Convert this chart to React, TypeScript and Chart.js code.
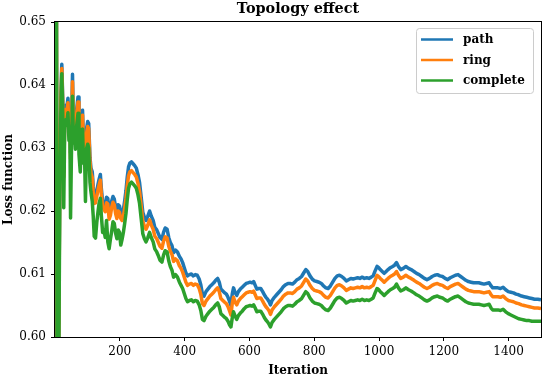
import React, { useEffect, useRef } from "react";
import { Chart, registerables } from "chart.js";

Chart.register(...registerables);

const chartTitle = "Topology effect";
const xAxisTitle = "Iteration";
const yAxisTitle = "Loss function";
const seriesNames = ["path", "ring", "complete"];
const seriesColors = ["#1f77b4", "#ff7f0e", "#2ca02c"];
const xTicks = [200, 400, 600, 800, 1000, 1200, 1400];
const yTicks = [0.6, 0.61, 0.62, 0.63, 0.64, 0.65];

const iterations = [
  1, 4, 7, 11, 15, 18, 21, 24, 27, 30, 33, 36, 40, 43, 46, 48, 51, 54, 57, 60,
  63, 67, 71, 74, 78, 82, 85, 88, 91, 94, 97, 101, 104, 108, 111, 115, 118, 121, 125, 129,
  133, 136, 140, 143, 147, 151, 155, 159, 163, 167, 171, 175, 179, 183, 187, 191, 195, 199, 203, 207,
  211, 215, 219, 223, 227, 231, 236, 241, 246, 251, 256, 261, 266, 271, 276, 281, 286, 292, 297, 303,
  308, 314, 319, 324, 330, 335, 340, 346, 351, 356, 361, 366, 372, 378, 384, 389, 394, 399, 404, 409,
  415, 421, 427, 433, 439, 445, 450, 455, 460, 466, 472, 478, 484, 490, 496, 502, 507, 512, 518, 524,
  529, 534, 539, 543, 547, 551, 556, 561, 566, 572, 578, 584, 590, 596, 602, 608, 613, 618, 623, 629,
  635, 641, 646, 651, 656, 661, 665, 670, 677, 684, 691, 698, 705, 712, 719, 726, 733, 740, 747, 754,
  761, 768, 774, 780, 787, 794, 801, 808, 815, 822, 829, 836, 843, 850, 857, 864, 871, 878, 885, 892,
  899, 906, 913, 920, 927, 934, 941, 948, 955, 962, 969, 976, 982, 988, 994, 999, 1004, 1010, 1016, 1022,
  1028, 1035, 1042, 1048, 1054, 1060, 1067, 1075, 1083, 1091, 1099, 1108, 1116, 1124, 1132, 1140, 1148, 1156, 1164, 1172,
  1180, 1188, 1196, 1204, 1212, 1220, 1228, 1236, 1244, 1252, 1260, 1268, 1276, 1284, 1292, 1300, 1308, 1316, 1324, 1332,
  1340, 1346, 1351, 1359, 1367, 1375, 1383, 1391, 1399, 1407, 1415, 1423, 1431, 1440, 1448, 1456, 1464, 1472, 1480, 1490,
  1500,
];

const pathLoss = [
  0.7, 0.66, 0.59, 0.596, 0.628, 0.638, 0.6433, 0.6375, 0.6262, 0.6355, 0.6368, 0.6362, 0.6379, 0.6342, 0.6355, 0.6292, 0.633, 0.6417, 0.6335, 0.636,
  0.6345, 0.6362, 0.6381, 0.6322, 0.6348, 0.6356, 0.636, 0.6308, 0.6325, 0.631, 0.633, 0.6342, 0.6339, 0.6285, 0.6268, 0.6262, 0.6239, 0.6222, 0.6222, 0.6232,
  0.6243, 0.625, 0.6258, 0.6236, 0.6215, 0.6212, 0.6208, 0.6222, 0.622, 0.6196, 0.6202, 0.6216, 0.6223, 0.6219, 0.6205, 0.6197, 0.621, 0.6208, 0.6198, 0.6196,
  0.6202, 0.6216, 0.6232, 0.6254, 0.627, 0.6276, 0.6278, 0.6275, 0.6272, 0.6268, 0.6258, 0.6245, 0.6222, 0.6198, 0.619, 0.6185, 0.6191, 0.62, 0.6192, 0.6185,
  0.6174, 0.617, 0.6164, 0.6158, 0.6155, 0.6166, 0.6173, 0.6171, 0.6158, 0.615, 0.6145, 0.6134, 0.6138, 0.6135, 0.6128, 0.6124, 0.6118, 0.611, 0.6102, 0.6097,
  0.6099, 0.61, 0.6097, 0.6099, 0.6098, 0.6092, 0.6083, 0.6068, 0.6065, 0.6072, 0.6076, 0.608, 0.6083, 0.6086, 0.609, 0.6093, 0.6087, 0.6076, 0.6073, 0.607,
  0.6068, 0.6063, 0.6056, 0.605, 0.6068, 0.6078, 0.607, 0.6066, 0.6072, 0.6076, 0.6079, 0.6082, 0.6085, 0.6086, 0.6087, 0.6086, 0.6088, 0.6082, 0.6076, 0.6077,
  0.6077, 0.6072, 0.6067, 0.6063, 0.606, 0.6056, 0.6051, 0.6058, 0.6063, 0.6067, 0.6071, 0.6075, 0.608, 0.6083, 0.6085, 0.6085, 0.6084, 0.6087, 0.6091, 0.6093,
  0.6096, 0.6102, 0.6107, 0.6104, 0.6097, 0.6092, 0.6089, 0.6088, 0.6087, 0.6085, 0.6081, 0.6078, 0.6077, 0.6081, 0.6087, 0.6093, 0.6097, 0.6098, 0.6096, 0.6093,
  0.6089, 0.6091, 0.6093, 0.6092, 0.6093, 0.6094, 0.6093, 0.6095, 0.6093, 0.6094, 0.6093, 0.6095, 0.6097, 0.6105, 0.6112, 0.611, 0.6107, 0.6104, 0.6101, 0.6104,
  0.6107, 0.611, 0.6112, 0.6114, 0.6118, 0.6112, 0.6107, 0.6109, 0.6112, 0.6109, 0.6107, 0.6104, 0.6101, 0.6099, 0.6096, 0.6093, 0.6091, 0.6093, 0.6096, 0.6098,
  0.6099, 0.6097, 0.6096, 0.6093, 0.6091, 0.6094, 0.6096, 0.6098, 0.6099, 0.6096, 0.6093, 0.609, 0.6088, 0.6087, 0.6086, 0.6086, 0.6086, 0.6085, 0.6084, 0.6085,
  0.6086, 0.6081, 0.6078, 0.6078, 0.6078, 0.6077, 0.6079, 0.6075, 0.6072, 0.6071, 0.607, 0.6068, 0.6067, 0.6065, 0.6064, 0.6063, 0.6062, 0.6061, 0.606, 0.606,
  0.6059,
];

const ringLoss = [
  0.7, 0.662, 0.59, 0.595, 0.627, 0.637, 0.6426, 0.6368, 0.6254, 0.6348, 0.6361, 0.6355, 0.6372, 0.6335, 0.6348, 0.6283, 0.6322, 0.6405, 0.6328, 0.6352,
  0.6338, 0.6355, 0.6373, 0.6314, 0.634, 0.6348, 0.6352, 0.63, 0.6317, 0.6302, 0.6322, 0.6334, 0.6331, 0.6277, 0.626, 0.6253, 0.623, 0.6212, 0.6213, 0.6223,
  0.6234, 0.6241, 0.6249, 0.6227, 0.6206, 0.6203, 0.6199, 0.6213, 0.6211, 0.6187, 0.6193, 0.6206, 0.6214, 0.621, 0.6196, 0.6188, 0.62, 0.6198, 0.6188, 0.6185,
  0.6191, 0.6204, 0.6219, 0.624, 0.6256, 0.6262, 0.6264, 0.6261, 0.6258, 0.6254, 0.6244, 0.6231, 0.6208, 0.6184, 0.6176, 0.6171, 0.6177, 0.6186, 0.6178, 0.6171,
  0.616, 0.6156, 0.615, 0.6144, 0.6141, 0.6152, 0.6159, 0.6157, 0.6144, 0.6136, 0.6131, 0.612, 0.6124, 0.6121, 0.6113, 0.6109, 0.6103, 0.6095, 0.6087, 0.6082,
  0.6084, 0.6085, 0.6082, 0.6084, 0.6083, 0.6077, 0.6068, 0.6053, 0.605, 0.6057, 0.6061, 0.6065, 0.6068, 0.6071, 0.6075, 0.6078, 0.6072, 0.6061, 0.6058, 0.6055,
  0.6053, 0.6048, 0.6041, 0.6035, 0.6053, 0.6063, 0.6055, 0.6051, 0.6057, 0.6061, 0.6064, 0.6067, 0.607, 0.6071, 0.6072, 0.6071, 0.6073, 0.6067, 0.6061, 0.6062,
  0.6062, 0.6057, 0.6052, 0.6048, 0.6045, 0.6041, 0.6036, 0.6043, 0.6048, 0.6052, 0.6056, 0.606, 0.6065, 0.6068, 0.607, 0.607, 0.6069, 0.6072, 0.6076, 0.6078,
  0.6081, 0.6087, 0.6092, 0.6089, 0.6082, 0.6077, 0.6074, 0.6073, 0.6072, 0.607, 0.6066, 0.6063, 0.6062, 0.6066, 0.6072, 0.6078, 0.6082, 0.6083, 0.6081, 0.6078,
  0.6074, 0.6076, 0.6078, 0.6077, 0.6078, 0.6079, 0.6078, 0.608, 0.6078, 0.6079, 0.6078, 0.608, 0.6082, 0.609, 0.6098, 0.6096, 0.6093, 0.609, 0.6087, 0.609,
  0.6093, 0.6096, 0.6098, 0.61, 0.6104, 0.6098, 0.6093, 0.6095, 0.6098, 0.6095, 0.6093, 0.609, 0.6087, 0.6085, 0.6082, 0.6079, 0.6077, 0.6079, 0.6082, 0.6084,
  0.6085, 0.6083, 0.6082, 0.6079, 0.6077, 0.608, 0.6082, 0.6084, 0.6085, 0.6082, 0.6079, 0.6076, 0.6074, 0.6073, 0.6072, 0.6072, 0.6072, 0.6071, 0.607, 0.6071,
  0.6072, 0.6067, 0.6064, 0.6064, 0.6064, 0.6063, 0.6065, 0.6061, 0.6058, 0.6057, 0.6056, 0.6054, 0.6053, 0.6051, 0.605, 0.6049, 0.6048, 0.6047, 0.6046, 0.6046,
  0.6045,
];

const completeLoss = [
  0.7, 0.665, 0.585, 0.59, 0.624, 0.6355, 0.6418, 0.6352, 0.6205, 0.6332, 0.6345, 0.6338, 0.6356, 0.6312, 0.6325, 0.6189, 0.63, 0.6382, 0.6308, 0.6333,
  0.6298, 0.6336, 0.6355, 0.629, 0.6262, 0.6328, 0.633, 0.6276, 0.6294, 0.6215, 0.6298, 0.6306, 0.63, 0.6245, 0.623, 0.6215, 0.6192, 0.616, 0.6157, 0.6182,
  0.62, 0.6212, 0.622, 0.6193, 0.6166, 0.617, 0.6158, 0.6185, 0.6151, 0.614, 0.6155, 0.6168, 0.6183, 0.618, 0.6165, 0.6156, 0.617, 0.6166, 0.6146, 0.6155,
  0.6166, 0.618, 0.6196, 0.6218, 0.6236, 0.6243, 0.6246, 0.6243, 0.624, 0.6236, 0.6226, 0.6212, 0.6188, 0.6164, 0.6156, 0.6151, 0.6157, 0.6166, 0.6158, 0.6151,
  0.614, 0.6135, 0.6129, 0.6122, 0.6119, 0.613, 0.6137, 0.6135, 0.6121, 0.6112, 0.6106, 0.6095, 0.6099, 0.6095, 0.6087, 0.6082, 0.6077, 0.6069, 0.6061, 0.6056,
  0.6058, 0.6059, 0.6056, 0.6058, 0.6057, 0.6051, 0.6042, 0.6028, 0.6026, 0.6033, 0.6037, 0.6041, 0.6044, 0.6047, 0.6051, 0.6054, 0.6048, 0.6037, 0.6034, 0.6031,
  0.6029, 0.6025, 0.6019, 0.6016, 0.603, 0.604, 0.6033, 0.6028, 0.6034, 0.6038, 0.6041, 0.6045, 0.6048, 0.6049, 0.605, 0.6049, 0.6051, 0.6046, 0.604, 0.6041,
  0.6041, 0.6036, 0.6031, 0.6027, 0.6024, 0.602, 0.6016, 0.6023, 0.6028, 0.6032, 0.6036, 0.604, 0.6045, 0.6048, 0.605, 0.605, 0.6049, 0.6052, 0.6056, 0.6058,
  0.6061, 0.6067, 0.6072, 0.6069, 0.6062, 0.6057, 0.6054, 0.6053, 0.6052, 0.605, 0.6046, 0.6043, 0.6042, 0.6046, 0.6052, 0.6058, 0.6062, 0.6063, 0.6061, 0.6058,
  0.6054, 0.6056, 0.6058, 0.6057, 0.6058, 0.6059, 0.6058, 0.606, 0.6058, 0.6059, 0.6058, 0.606, 0.6062, 0.607, 0.6077, 0.6075, 0.6072, 0.6069, 0.6066, 0.6069,
  0.6072, 0.6075, 0.6077, 0.6079, 0.6084, 0.6078, 0.6073, 0.6075, 0.6078, 0.6075, 0.6073, 0.607, 0.6067, 0.6065, 0.6062, 0.6059, 0.6057, 0.6059, 0.6062, 0.6064,
  0.6065, 0.6063, 0.6062, 0.6059, 0.6057, 0.606, 0.6062, 0.6064, 0.6065, 0.6062, 0.6059, 0.6056, 0.6054, 0.6053, 0.6052, 0.6052, 0.6052, 0.6051, 0.605, 0.6051,
  0.6052, 0.6046, 0.6043, 0.6043, 0.6043, 0.6042, 0.6044, 0.604, 0.6037, 0.6035, 0.6033, 0.6031, 0.6029, 0.6028, 0.6027, 0.6026, 0.6026, 0.6025, 0.6025, 0.6025,
  0.6025,
];

const seriesValues = [pathLoss, ringLoss, completeLoss];

const SERIF = "'DejaVu Serif', serif";

const decorPlugin = {
  id: "decor",
  afterDatasetsDraw(chart: any) {
    const { ctx, chartArea } = chart;
    const { left, right, top, bottom } = chartArea;
    ctx.save();
    ctx.strokeStyle = "#000";
    ctx.lineWidth = 1;
    ctx.strokeRect(Math.round(left) - 0.5, Math.round(top) - 0.5, Math.round(right - left) + 1, Math.round(bottom - top) + 1);

    const lx = 416.5, ly = 28.5, lw = 117, lh = 65, r = 3;
    ctx.beginPath();
    ctx.moveTo(lx + r, ly);
    ctx.lineTo(lx + lw - r, ly);
    ctx.quadraticCurveTo(lx + lw, ly, lx + lw, ly + r);
    ctx.lineTo(lx + lw, ly + lh - r);
    ctx.quadraticCurveTo(lx + lw, ly + lh, lx + lw - r, ly + lh);
    ctx.lineTo(lx + r, ly + lh);
    ctx.quadraticCurveTo(lx, ly + lh, lx, ly + lh - r);
    ctx.lineTo(lx, ly + r);
    ctx.quadraticCurveTo(lx, ly, lx + r, ly);
    ctx.closePath();
    ctx.fillStyle = "rgba(255,255,255,0.85)";
    ctx.fill();
    ctx.strokeStyle = "#cccccc";
    ctx.lineWidth = 1;
    ctx.stroke();

    ctx.font = `bold 12px ${SERIF}`;
    ctx.textBaseline = "middle";
    ctx.textAlign = "left";
    const rows = [39.5, 60, 80.5];
    chart.data.datasets.forEach((ds: any, i: number) => {
      const y = rows[i];
      ctx.strokeStyle = ds.borderColor;
      ctx.lineWidth = 2.5;
      ctx.beginPath();
      ctx.moveTo(421, y);
      ctx.lineTo(453, y);
      ctx.stroke();
      ctx.fillStyle = "#000";
      ctx.fillText(ds.label, 463, y + 0.5);
    });

    ctx.fillStyle = "#000";
    ctx.textAlign = "center";
    ctx.textBaseline = "alphabetic";
    ctx.font = `bold 14.4px ${SERIF}`;
    ctx.fillText(chartTitle, (left + right) / 2, 13);
    ctx.font = `bold 12px ${SERIF}`;
    ctx.fillText(xAxisTitle, (left + right) / 2, 374);
    ctx.translate(12, (top + bottom) / 2);
    ctx.rotate(-Math.PI / 2);
    ctx.fillText(yAxisTitle, 0, 0);
    ctx.restore();
  },
};

export default function App() {
  const ref = useRef<HTMLCanvasElement | null>(null);

  useEffect(() => {
    if (!ref.current) return;
    const datasets = seriesNames.map((name, i) => ({
      label: name,
      data: iterations.map((x, j) => ({ x, y: seriesValues[i][j] })),
      borderColor: seriesColors[i],
      backgroundColor: seriesColors[i],
      borderWidth: 3.5,
      pointRadius: 0,
      tension: 0,
      fill: false,
      clip: 0,
      order: seriesNames.length - 1 - i,
      borderJoinStyle: "round" as const,
    }));

    const chart = new Chart(ref.current, {
      type: "line",
      data: { datasets },
      options: {
        animation: false,
        responsive: false,
        devicePixelRatio: 1,
        layout: { padding: { left: 0, right: 3, top: 22, bottom: 0 } },
        plugins: {
          legend: { display: false },
          title: { display: false },
          tooltip: { enabled: false },
        },
        scales: {
          x: {
            type: "linear",
            min: 0,
            max: 1500,
            afterBuildTicks: (s: any) => {
              s.ticks = xTicks.map((v) => ({ value: v }));
            },
            afterFit: (s: any) => {
              s.height = 39;
            },
            ticks: {
              color: "#000",
              font: { family: SERIF, size: 12 },
              padding: 4,
              maxRotation: 0,
              autoSkip: false,
              callback: (v: any) => String(v),
            },
            grid: {
              display: true,
              drawOnChartArea: false,
              drawTicks: true,
              tickLength: 4,
              color: "#000",
            },
            border: { display: true, color: "#000", width: 1 },
          },
          y: {
            type: "linear",
            min: 0.6,
            max: 0.65,
            afterBuildTicks: (s: any) => {
              s.ticks = yTicks.map((v) => ({ value: v }));
            },
            afterFit: (s: any) => {
              s.width = 55;
            },
            ticks: {
              color: "#000",
              font: { family: SERIF, size: 12 },
              padding: 5,
              autoSkip: false,
              callback: (v: any) => Number(v).toFixed(2),
            },
            grid: {
              display: true,
              drawOnChartArea: false,
              drawTicks: true,
              tickLength: 4,
              color: "#000",
            },
            border: { display: true, color: "#000", width: 1 },
          },
        },
      },
      plugins: [decorPlugin],
    });
    return () => chart.destroy();
  }, []);

  return (
    <div style={{ position: "fixed", left: 0, top: 0, width: 544, height: 376, background: "#fff" }}>
      <canvas ref={ref} width={544} height={376} style={{ width: 544, height: 376 }} />
    </div>
  );
}
